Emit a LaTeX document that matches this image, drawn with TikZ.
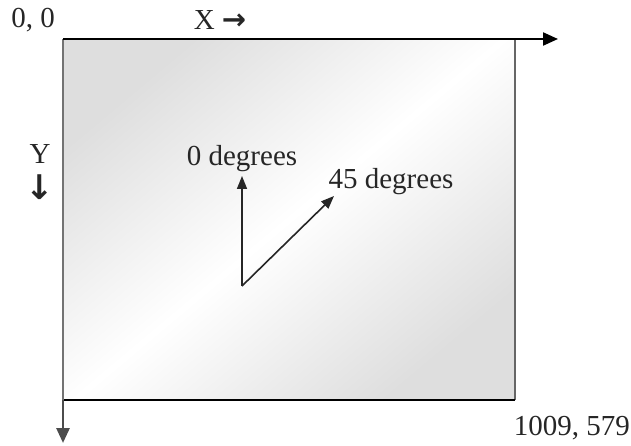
\documentclass[tikz,border=0pt]{standalone}
\usepackage{fontspec}
\setmainfont{Liberation Serif}
\newfontfamily\arrfont{DejaVu Sans}
\usetikzlibrary{arrows.meta}
\begin{document}
\begin{tikzpicture}[x=1pt,y=-1pt,
  lbl/.style={inner sep=0pt,font=\fontsize{29}{32}\selectfont,text=black!85},
  axisblack/.style={line width=2.2pt,black},
  axisgray/.style={line width=2.8pt,gray!90!black},
  vec/.style={line width=1.6pt,black!85,-{Triangle[length=13pt,width=10pt]}},
  bigtip/.style={-{Triangle[length=15pt,width=13pt]}}]
\useasboundingbox (0,0) rectangle (631,446);
% canvas
\shade[left color=black!13,right color=black!13,middle color=white,shading angle=40]
  (63,39) rectangle (515,400);
\coordinate (tl) at (63,39);
\coordinate (tr) at (515,39);
\coordinate (br) at (515,400);
\coordinate (bl) at (63,400);
\coordinate (xend) at (558,39);
\coordinate (yend) at (63,443);
\draw[line width=1.6pt,gray!80!black] (tr) -- (br);
\draw[axisblack] (bl) -- (br);
\draw[axisgray] (tl) -- (bl);
\draw[axisgray,black!70,bigtip] (bl) -- (yend);
\draw[axisblack,bigtip] (tl) -- (xend);
% labels
\node[lbl] (origin) at (33,20) {0, 0};
\node[lbl] (xlab) at (220,20) {X {\arrfont\bfseries →}};
\node[lbl] (ylab) at (40,154) {Y};
\node[lbl,font=\fontsize{34}{36}\selectfont\arrfont\bfseries] (yarr) at (40,187) {↓};
\node[lbl,anchor=east] (corner) at (630,428) {1009, 579};
% vectors
\coordinate (o) at (242,286);
\coordinate (up) at (242,176);
\coordinate (diag) at (334,196);
\draw[vec] (o) -- (up);
\draw[vec] (o) -- (diag);
\node[lbl] (zero) at (242,159) {0 degrees};
\node[lbl] (fortyfive) at (391,182) {45 degrees};
\end{tikzpicture}
\end{document}
